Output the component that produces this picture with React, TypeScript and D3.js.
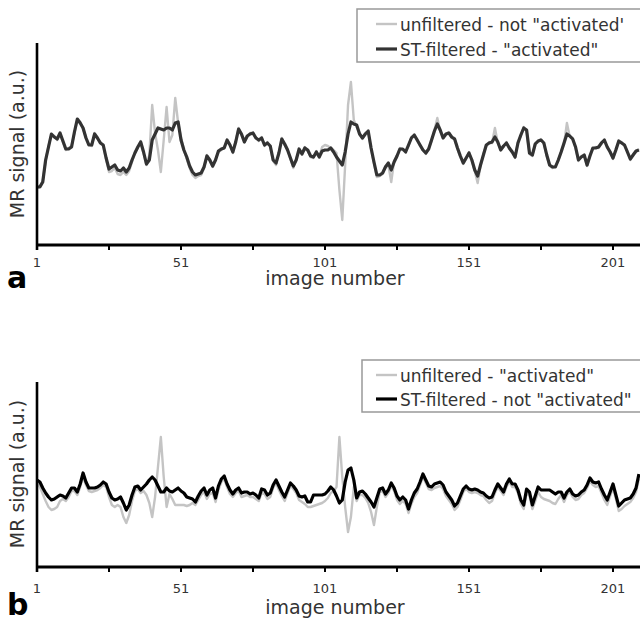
import React from "react";
import * as d3 from "d3";

// ---------- DATA ----------
const imageNumbers: number[] = d3.range(1, 211);
const xTickValues = [1, 26, 51, 76, 101, 126, 151, 176, 201];
const xTickLabels = [1, 51, 101, 151, 201];

const legendA = ["unfiltered - not \"activated'", "ST-filtered - \"activated\""];
const legendB = ["unfiltered - \"activated\"", "ST-filtered - not \"activated\""];

const panelAFiltered = [
  58, 58, 63, 85, 98, 111, 108, 106, 112, 104,
  96, 96, 98, 113, 126, 122, 117, 107, 100, 100,
  111, 107, 102, 100, 87, 76, 78, 80, 75, 74,
  77, 73, 77, 85, 92, 98, 103, 93, 81, 85,
  105, 111, 117, 116, 115, 117, 117, 115, 122, 123,
  105, 95, 88, 79, 73, 70, 71, 72, 78, 89,
  85, 79, 85, 94, 96, 97, 105, 100, 93, 103,
  116, 111, 103, 109, 111, 112, 107, 105, 107, 100,
  102, 99, 85, 82, 92, 106, 101, 95, 87, 79,
  85, 96, 91, 97, 95, 89, 88, 93, 88, 94,
  95, 95, 97, 93, 88, 84, 80, 93, 111, 123,
  121, 120, 111, 107, 111, 114, 97, 83, 70, 70,
  72, 78, 82, 75, 83, 89, 96, 96, 93, 100,
  107, 110, 105, 100, 95, 92, 96, 105, 114, 121,
  115, 107, 111, 112, 108, 106, 97, 89, 82, 87,
  92, 85, 75, 69, 80, 90, 100, 102, 103, 108,
  103, 95, 99, 102, 97, 93, 88, 102, 110, 117,
  115, 92, 90, 101, 104, 105, 102, 90, 80, 78,
  78, 85, 93, 102, 111, 109, 106, 98, 85, 88,
  90, 80, 89, 97, 97, 98, 102, 105, 98, 93,
  87, 95, 104, 102, 100, 93, 86, 90, 94, 95,
];

const panelAUnfiltered = [
  57, 59, 64, 84, 99, 110, 109, 105, 111, 103,
  95, 97, 99, 112, 125, 123, 116, 108, 101, 99,
  112, 106, 103, 99, 86, 73, 74, 77, 71, 70,
  73, 70, 74, 83, 93, 97, 104, 92, 80, 90,
  140, 112, 95, 73, 105, 138, 103, 110, 147, 122,
  108, 95, 86, 77, 70, 67, 69, 70, 77, 90,
  84, 78, 86, 93, 95, 98, 104, 101, 92, 104,
  117, 110, 104, 108, 112, 111, 108, 104, 108, 99,
  103, 98, 84, 80, 93, 107, 100, 96, 86, 77,
  86, 95, 92, 98, 94, 88, 87, 94, 89, 98,
  100, 99, 97, 95, 92, 55, 25, 80, 140, 163,
  125, 118, 112, 106, 112, 113, 96, 82, 68, 69,
  71, 79, 80, 63, 84, 88, 97, 95, 94, 99,
  108, 109, 106, 99, 96, 91, 97, 104, 115, 127,
  114, 108, 110, 113, 107, 107, 96, 88, 81, 86,
  93, 84, 74, 62, 79, 91, 99, 103, 102, 117,
  102, 96, 98, 103, 96, 94, 87, 103, 109, 118,
  114, 91, 89, 102, 103, 106, 101, 89, 79, 77,
  79, 84, 94, 101, 122, 108, 107, 97, 84, 89,
  89, 79, 90, 96, 98, 97, 103, 104, 97, 94,
  86, 96, 103, 103, 99, 94, 85, 91, 93, 96,
];

const panelBFiltered = [
  87, 85, 79, 74, 70, 67, 68, 70, 72, 71,
  69, 74, 79, 79, 75, 83, 94, 85, 79, 79,
  79, 80, 82, 85, 83, 75, 69, 67, 68, 70,
  64, 57, 62, 72, 80, 81, 77, 80, 83, 87,
  90, 87, 81, 75, 75, 79, 76, 75, 77, 79,
  76, 74, 70, 69, 68, 65, 71, 76, 79, 72,
  77, 79, 69, 81, 88, 91, 83, 77, 73, 77,
  79, 74, 75, 75, 73, 74, 72, 69, 78, 77,
  72, 74, 82, 87, 81, 75, 70, 77, 84, 81,
  77, 71, 70, 71, 65, 65, 72, 72, 72, 72,
  73, 76, 80, 77, 71, 64, 67, 85, 97, 99,
  87, 69, 75, 76, 73, 69, 65, 60, 69, 78,
  79, 73, 77, 84, 79, 71, 67, 70, 67, 58,
  67, 74, 78, 85, 93, 87, 81, 80, 83, 84,
  85, 82, 75, 71, 67, 61, 64, 71, 78, 81,
  78, 77, 78, 77, 75, 74, 71, 69, 70, 77,
  83, 79, 75, 83, 88, 83, 83, 77, 67, 62,
  78, 75, 62, 71, 80, 77, 77, 77, 77, 75,
  73, 75, 75, 69, 75, 78, 73, 71, 72, 75,
  77, 82, 89, 85, 84, 85, 78, 72, 67, 75,
  83, 72, 61, 64, 67, 68, 69, 73, 79, 93,
];

const panelBUnfiltered = [
  84, 80, 73, 66, 60, 57, 58, 60, 66, 68,
  66, 70, 76, 76, 72, 80, 90, 82, 76, 75,
  76, 77, 79, 82, 80, 70, 62, 60, 62, 60,
  50, 44, 52, 66, 76, 78, 74, 76, 72, 64,
  50, 70, 100, 130, 90, 60, 73, 68, 62, 62,
  62, 62, 61, 62, 64, 62, 67, 72, 75, 68,
  73, 74, 65, 77, 85, 88, 80, 73, 70, 74,
  76, 70, 71, 72, 70, 70, 68, 66, 74, 73,
  68, 70, 79, 84, 77, 71, 66, 74, 81, 78,
  74, 67, 65, 63, 60, 60, 61, 62, 63, 64,
  66, 69, 74, 76, 80, 130, 90, 60, 35, 50,
  80, 66, 72, 72, 69, 64, 55, 42, 60, 75,
  76, 70, 74, 81, 76, 67, 63, 66, 63, 54,
  63, 70, 74, 82, 90, 84, 78, 77, 79, 80,
  81, 78, 71, 67, 63, 57, 60, 67, 75, 78,
  75, 74, 75, 74, 72, 71, 67, 64, 66, 74,
  80, 76, 72, 80, 85, 80, 80, 74, 63, 58,
  74, 71, 58, 66, 75, 70, 68, 67, 66, 64,
  63, 68, 72, 65, 72, 75, 70, 67, 68, 72,
  74, 79, 86, 82, 80, 81, 74, 67, 62, 71,
  79, 68, 56, 58, 61, 63, 65, 69, 75, 88,
];

// ---------- LAYOUT ----------
const W = 640;
const H = 623;
const FONT = "'DejaVu Sans', Verdana, sans-serif";
const TEXT = "#333";
const x = d3.scaleLinear().domain([1, 201]).range([37, 613]);

type Layout = {
  top: number;
  bottom: number;
  yMax: number;
  tickLabelY: number;
  titleY: number;
  letterY: number;
  yTitleCenter: number;
  boxX: number;
  boxY: number;
  boxH: number;
  rowY: number[];
  letter: string;
  darkColor: string;
};

const layoutA: Layout = {
  top: 43, bottom: 245, yMax: 202, tickLabelY: 267, titleY: 285, letterY: 288,
  yTitleCenter: 144, boxX: 357, boxY: 9, boxH: 53, rowY: [24, 49], letter: "a", darkColor: "#333",
};
const layoutB: Layout = {
  top: 382, bottom: 567, yMax: 185, tickLabelY: 593, titleY: 614, letterY: 615,
  yTitleCenter: 474, boxX: 362, boxY: 360, boxH: 52, rowY: [375, 399], letter: "b", darkColor: "#000",
};

function Panel({ L, filtered, unfiltered, legend }: { L: Layout; filtered: number[]; unfiltered: number[]; legend: string[] }) {
  const y = d3.scaleLinear().domain([0, L.yMax]).range([L.bottom, L.top]);
  const line = d3
    .line<number>()
    .x((_, i) => x(imageNumbers[i]))
    .y((d) => y(d));
  return (
    <g>
      <path d={line(unfiltered) || ""} fill="none" stroke="#c4c4c4" strokeWidth={2.4} strokeLinejoin="round" />
      <path d={line(filtered) || ""} fill="none" stroke={L.darkColor} strokeWidth={3.2} strokeLinejoin="round" />
      {/* axes */}
      <line x1={x(1)} x2={x(1)} y1={L.top} y2={L.bottom + 5} stroke="#000" strokeWidth={2.6} />
      <line x1={x(1)} x2={W} y1={L.bottom} y2={L.bottom} stroke="#000" strokeWidth={2.8} />
      {xTickValues.map((t) => (
        <line key={t} x1={x(t)} x2={x(t)} y1={L.bottom} y2={L.bottom + 5} stroke="#000" strokeWidth={2} />
      ))}
      {xTickLabels.map((t) => (
        <text key={t} x={x(t)} y={L.tickLabelY} textAnchor="middle" fontSize={13} fontFamily={FONT} fill={TEXT}>
          {t}
        </text>
      ))}
      <text x={335} y={L.titleY} textAnchor="middle" fontSize={19} fontFamily={FONT} fill={TEXT}>
        image number
      </text>
      <text
        transform={`translate(24,${L.yTitleCenter}) rotate(-90)`}
        textAnchor="middle"
        fontSize={19}
        fontFamily={FONT}
        fill={TEXT}
      >
        MR signal (a.u.)
      </text>
      <text x={7} y={L.letterY} fontSize={30} fontWeight="bold" fontFamily={FONT} fill="#000">
        {L.letter}
      </text>
      {/* legend */}
      <rect x={L.boxX} y={L.boxY} width={W - L.boxX + 10} height={L.boxH} fill="#fff" stroke="#999" strokeWidth={1.5} />
      <line x1={376} x2={397} y1={L.rowY[0]} y2={L.rowY[0]} stroke="#c4c4c4" strokeWidth={2.4} />
      <line x1={376} x2={397} y1={L.rowY[1]} y2={L.rowY[1]} stroke={L.darkColor} strokeWidth={3.2} />
      {legend.map((s, i) => (
        <text key={i} x={400} y={L.rowY[i] + 7} fontSize={17} fontFamily={FONT} fill={TEXT}>
          {s}
        </text>
      ))}
    </g>
  );
}

export default function App() {
  return (
    <svg width={W} height={H} style={{ position: "absolute", left: 0, top: 0, background: "#fff" }}>
      <rect width={W} height={H} fill="#fff" />
      <Panel L={layoutA} filtered={panelAFiltered} unfiltered={panelAUnfiltered} legend={legendA} />
      <Panel L={layoutB} filtered={panelBFiltered} unfiltered={panelBUnfiltered} legend={legendB} />
    </svg>
  );
}
